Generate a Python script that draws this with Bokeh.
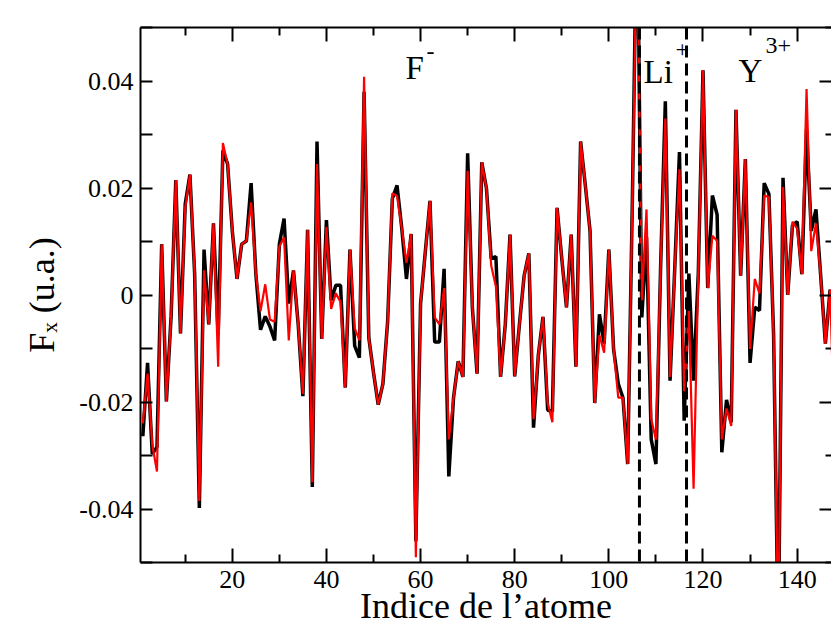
import math
from bokeh.plotting import figure
from bokeh.models import Range1d, FixedTicker, LinearAxis, Label, Span
from bokeh.embed import file_html
from bokeh.resources import INLINE

# ---------------- data ----------------
atom_index = list(range(1, 149))

fx_black = [
    -0.0264, -0.0127, -0.0297, -0.0284, 0.0095, -0.0199, -0.0040, 0.0215, -0.0072, 0.0170,
    0.0225, 0.0040, -0.0398, 0.0085, -0.0055, 0.0134, -0.0075, 0.0270, 0.0245, 0.0120,
    0.0030, 0.0095, 0.0101, 0.0209, 0.0040, -0.0065, -0.0040, -0.0059, -0.0085, 0.0095,
    0.0143, -0.0016, 0.0046, -0.0055, -0.0189, 0.0122, -0.0359, 0.0287, -0.0082, 0.0140,
    -0.0010, 0.0018, 0.0018, -0.0173, 0.0085, -0.0095, -0.0117, 0.0380, -0.0080, -0.0145,
    -0.0205, -0.0166, -0.0050, 0.0180, 0.0205, 0.0125, 0.0030, 0.0114, -0.0460, -0.0016,
    0.0080, 0.0176, -0.0088, -0.0088, 0.0049, -0.0339, -0.0192, -0.0124, -0.0153, 0.0265,
    -0.0023, -0.0147, 0.0248, 0.0199, 0.0068, 0.0072, -0.0153, -0.0055, 0.0113, -0.0152,
    -0.0055, 0.0036, 0.0078, -0.0248, -0.0114, -0.0041, -0.0215, -0.0218, 0.0163, 0.0068,
    -0.0023, 0.0113, -0.0134, 0.0287, 0.0205, 0.0120, -0.0202, -0.0036, -0.0091, 0.0085,
    -0.0101, -0.0166, -0.0192, -0.0316, 0.0180, 0.0750, -0.0042, 0.0108, -0.0270, -0.0316,
    0.0055, 0.0362, -0.0160, 0.0050, 0.0267, -0.0235, 0.0040, -0.0160, 0.0040, 0.0420,
    0.0013, 0.0186, 0.0150, -0.0294, -0.0196, -0.0238, 0.0346, 0.0036, 0.0254, -0.0127,
    -0.0023, -0.0029, 0.0209, 0.0189, -0.0075, -0.0650, 0.0219, 0.0000, 0.0130, 0.0137,
    0.0039, 0.0310, 0.0120, 0.0160, 0.0036, -0.0091, 0.0010, -0.0050,
]

fx_red = [
    -0.0240, -0.0147, -0.0280, -0.0330, 0.0095, -0.0199, -0.0040, 0.0215, -0.0072, 0.0163,
    0.0225, 0.0040, -0.0385, 0.0046, -0.0055, 0.0134, -0.0134, 0.0284, 0.0245, 0.0120,
    0.0030, 0.0095, 0.0101, 0.0173, 0.0040, -0.0030, 0.0020, -0.0046, -0.0050, 0.0090,
    0.0108, -0.0085, 0.0046, -0.0055, -0.0185, 0.0122, -0.0350, 0.0245, -0.0082, 0.0127,
    -0.0026, 0.0003, -0.0013, -0.0173, 0.0085, -0.0062, -0.0085, 0.0408, -0.0080, -0.0145,
    -0.0205, -0.0166, -0.0050, 0.0190, 0.0185, 0.0125, 0.0060, 0.0114, -0.0490, -0.0016,
    0.0080, 0.0176, -0.0042, -0.0055, 0.0013, -0.0270, -0.0192, -0.0124, -0.0153, 0.0232,
    -0.0023, -0.0147, 0.0248, 0.0199, 0.0055, 0.0016, -0.0153, -0.0055, 0.0113, -0.0152,
    -0.0055, 0.0036, 0.0078, -0.0232, -0.0114, -0.0041, -0.0202, -0.0238, 0.0163, 0.0068,
    -0.0023, 0.0113, -0.0134, 0.0287, 0.0205, 0.0120, -0.0202, -0.0075, -0.0108, 0.0085,
    -0.0101, -0.0192, -0.0192, -0.0316, 0.0180, 0.0700, -0.0010, 0.0160, -0.0232, -0.0270,
    0.0055, 0.0330, -0.0153, 0.0050, 0.0235, -0.0180, -0.0030, -0.0362, 0.0040, 0.0420,
    0.0013, 0.0111, 0.0101, -0.0270, -0.0212, -0.0245, 0.0346, 0.0036, 0.0254, -0.0101,
    0.0030, 0.0003, 0.0186, 0.0183, -0.0075, -0.0650, 0.0202, 0.0000, 0.0137, 0.0124,
    0.0039, 0.0385, 0.0082, 0.0134, 0.0036, -0.0091, 0.0010, -0.0280,
]

species_boundaries = [106.5, 116.5]
species_names = ["F", "Li", "Y"]
species_charges = ["-", "+", "3+"]

x_major = [20, 40, 60, 80, 100, 120, 140]
x_minor = [10, 30, 50, 70, 90, 110, 130, 150]
y_major = [-0.04, -0.02, 0.0, 0.02, 0.04]
y_major_labels = ["-0.04", "-0.02", "0", "0.02", "0.04"]
y_minor = [-0.05, -0.03, -0.01, 0.01, 0.03, 0.05]

x_title = "Indice de l\u2019atome"
y_title = "F\u2093 (u.a.)"

# ---------------- layout ----------------
FONT = "Liberation Serif"
X0, X1 = 0.5, 147.3
Y0, Y1 = -0.05, 0.05
FL, FR, FT, FB = 140, 831, 27, 562   # frame edges in canvas pixels
W, H = 831, 635


def px_x(px):
    return X0 + (px - FL) / (FR - FL) * (X1 - X0)


def px_y(py):
    return Y1 - (py - FT) / (FB - FT) * (Y1 - Y0)


p = figure(width=W, height=H, output_backend="svg", toolbar_location=None,
           x_range=Range1d(X0, X1), y_range=Range1d(Y0, Y1),
           x_axis_location=None, y_axis_location=None,
           min_border_left=FL, min_border_right=W - FR,
           min_border_top=FT, min_border_bottom=H - FB)
p.outline_line_color = None
p.background_fill_color = "white"
p.border_fill_color = "white"
for g in p.grid:
    g.visible = False

xt = FixedTicker(ticks=x_major, minor_ticks=x_minor)
yt = FixedTicker(ticks=y_major, minor_ticks=y_minor)


def style_axis(ax, major_len, minor_len, line=True):
    ax.major_tick_in = major_len
    ax.major_tick_out = 0
    ax.minor_tick_in = minor_len
    ax.minor_tick_out = 0
    ax.major_tick_line_width = 2
    ax.minor_tick_line_width = 2
    ax.major_tick_line_color = "black"
    ax.minor_tick_line_color = "black"
    ax.axis_line_width = 2
    ax.axis_line_color = "black" if line else None
    ax.major_label_text_font = FONT
    ax.major_label_text_color = "black"
    ax.major_label_text_font_size = "26px"
    ax.major_label_standoff = 7
    ax.axis_label_text_font = FONT
    ax.axis_label_text_font_style = "normal"
    ax.axis_label_text_color = "black"
    ax.axis_label_text_font_size = "36px"


ax_b = LinearAxis(ticker=xt, axis_label=x_title)
style_axis(ax_b, 14, 8)
ax_b.major_label_standoff = 8
ax_b.axis_label_standoff = -5
p.add_layout(ax_b, "below")

ax_t = LinearAxis(ticker=xt, major_label_overrides={v: "" for v in x_major})
style_axis(ax_t, 14, 8)
ax_t.major_label_standoff = 0
p.add_layout(ax_t, "above")

ax_l = LinearAxis(ticker=yt, axis_label=y_title,
                  major_label_overrides={v: s for v, s in zip(y_major, y_major_labels)})
style_axis(ax_l, 12, 12)
ax_l.axis_label_standoff = 14
p.add_layout(ax_l, "left")

ax_r = LinearAxis(ticker=yt, major_label_overrides={v: "" for v in y_major})
style_axis(ax_r, 12, 6, line=False)
ax_r.major_label_standoff = 0
p.add_layout(ax_r, "right")

# ---------------- curves ----------------
p.line(atom_index, fx_black, line_color="black", line_width=3.5)
p.line(atom_index, fx_red, line_color="red", line_width=2.2)

for b in species_boundaries:
    p.add_layout(Span(location=b, dimension="height", line_color="black",
                      line_width=3, line_dash="12 6"))

# ---------------- species annotations ----------------
name_pos = [(405, 67), (643, 71), (738, 70)]     # left, baseline (canvas px)
charge_pos = [(426, 51), (675, 49), (765, 45)]
for name, charge, (nx, ny), (cx, cy) in zip(species_names, species_charges, name_pos, charge_pos):
    p.add_layout(Label(x=px_x(nx), y=px_y(ny), text=name, text_font=FONT,
                       text_font_size="33px", text_color="black",
                       text_align="left", text_baseline="alphabetic"))
    p.add_layout(Label(x=px_x(cx), y=px_y(cy), text=charge, text_font=FONT,
                       text_font_size="24px", text_color="black",
                       text_align="left", text_baseline="alphabetic"))

open("out.html", "w").write(file_html(p, INLINE))
